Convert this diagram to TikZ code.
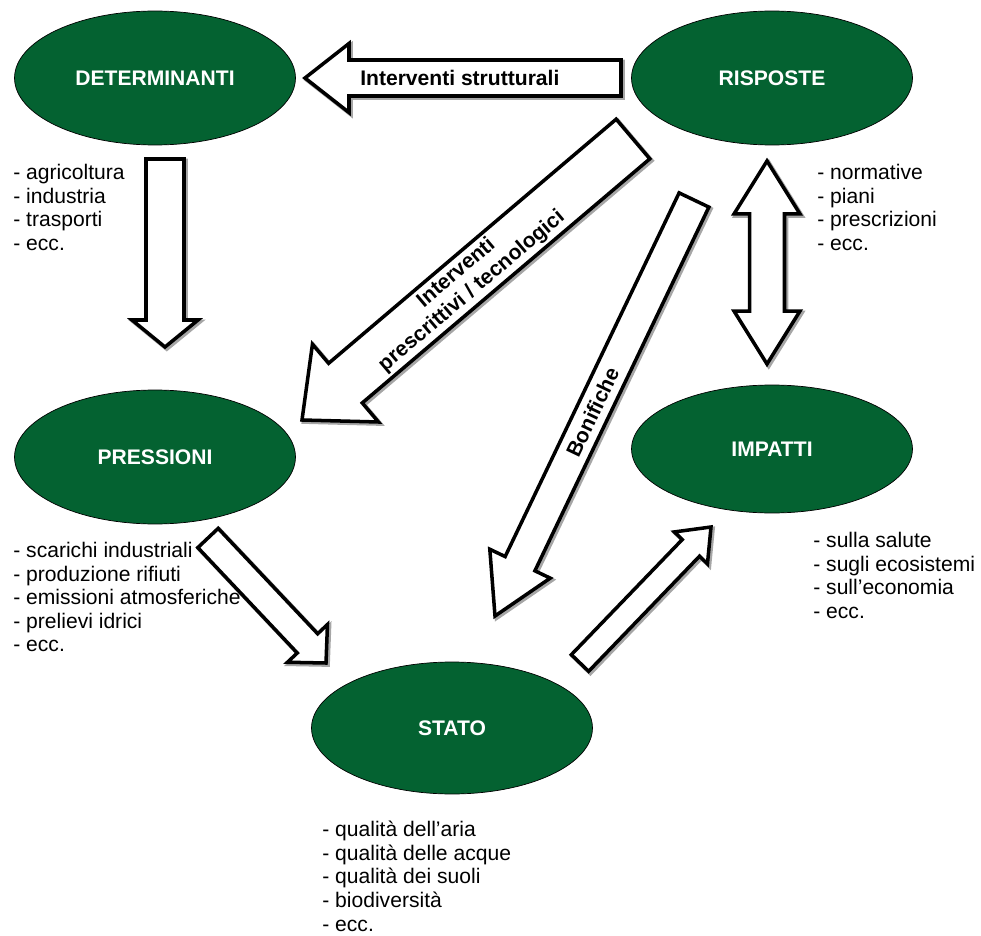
\documentclass[tikz,border=0pt]{standalone}
\usepackage{fontspec}
\setmainfont{Liberation Sans}
\usetikzlibrary{calc,shapes.geometric}
\usepackage{xcolor}
\definecolor{dpsirgreen}{RGB}{4,98,49}

% block arrow: tail, tip, shaft half width, head half width, head length
\newcommand{\blockarrow}[5]{%
  \coordinate (#1-h) at ($(#2)!#5!(#1)$);
  \foreach \look in {arrowshadow,arrowbody}
    \draw[\look] ($(#1)!#3!90:(#2)$) -- ($(#1-h)!#3!90:(#2)$) -- ($(#1-h)!#4!90:(#2)$) -- (#2)
      -- ($(#1-h)!#4!-90:(#2)$) -- ($(#1-h)!#3!-90:(#2)$) -- ($(#1)!#3!-90:(#2)$) -- cycle;
}
% block arrow with a head at both ends
\newcommand{\twinarrow}[5]{%
  \coordinate (#1-h) at ($(#1)!#5!(#2)$);
  \coordinate (#2-h) at ($(#2)!#5!(#1)$);
  \foreach \look in {arrowshadow,arrowbody}
    \draw[\look] (#1) -- ($(#1-h)!#4!90:(#2)$) -- ($(#1-h)!#3!90:(#2)$) -- ($(#2-h)!#3!-90:(#1)$)
      -- ($(#2-h)!#4!-90:(#1)$) -- (#2) -- ($(#2-h)!#4!90:(#1)$) -- ($(#2-h)!#3!90:(#1)$)
      -- ($(#1-h)!#3!-90:(#2)$) -- ($(#1-h)!#4!-90:(#2)$) -- cycle;
}

\begin{document}
\begin{tikzpicture}[x=0.02cm,y=-0.02cm,
	stage/.style={ellipse, draw=black, thin, fill=dpsirgreen, text=white,
		font=\bfseries\fontsize{12}{14}\selectfont,
		minimum width=5.62cm, minimum height=2.68cm, inner sep=0pt},
	items/.style={anchor=north west, align=left, inner sep=0pt,
		font=\fontsize{12}{13.4}\selectfont},
	arrowbody/.style={draw=black, fill=white, line width=2pt, line join=miter},
	arrowshadow/.style={draw=black!35, line width=2.4pt, line join=miter,
		transform canvas={shift={(1pt,-1pt)}}},
	arrowtext/.style={font=\bfseries\fontsize{12}{13.5}\selectfont, align=center,
		sloped, inner sep=0pt}]
	\useasboundingbox (0,0) rectangle (981,936);

	% the five stages
	\node[stage] (det) at (155,78) {DETERMINANTI};
	\node[stage] (ris) at (772,78) {RISPOSTE};
	\node[stage] (pre) at (155,457) {PRESSIONI};
	\node[stage, minimum height=2.56cm] (imp) at (772,449) {IMPATTI};
	\node[stage, minimum height=2.64cm] (sta) at (452,728) {STATO};

	% examples under each stage
	\node[items] (det-list) at (13,164) {- agricoltura\\- industria\\- trasporti\\- ecc.};
	\node[items] (ris-list) at (817,164) {- normative\\- piani\\- prescrizioni\\- ecc.};
	\node[items] (pre-list) at (13,542) {- scarichi industriali\\- produzione rifiuti\\- emissioni atmosferiche\\- prelievi idrici\\- ecc.};
	\node[items] (imp-list) at (813,532) {- sulla salute\\- sugli ecosistemi\\- sull’economia\\- ecc.};
	\node[items] (sta-list) at (322,821) {- qualità dell’aria\\- qualità delle acque\\- qualità dei suoli\\- biodiversità\\- ecc.};

	% arrow ends
	\coordinate (rd-s) at (621,78);  \coordinate (rd-e) at (305,78);
	\coordinate (dp-s) at (165,159); \coordinate (dp-e) at (165,347);
	\coordinate (rp-s) at (633,139); \coordinate (rp-e) at (302,420);
	\coordinate (rs-s) at (694,200); \coordinate (rs-e) at (495,616);
	\coordinate (ri-a) at (767,161); \coordinate (ri-b) at (767,364);
	\coordinate (ps-s) at (208,538); \coordinate (ps-e) at (326,663);
	\coordinate (si-s) at (580,663); \coordinate (si-e) at (711,527);

	\blockarrow{rd-s}{rd-e}{0.36cm}{0.69cm}{0.88cm}
	\blockarrow{dp-s}{dp-e}{0.38cm}{0.66cm}{0.54cm}
	\blockarrow{rp-s}{rp-e}{0.52cm}{1.02cm}{1.14cm}
	\blockarrow{rs-s}{rs-e}{0.33cm}{0.67cm}{1.16cm}
	\twinarrow{ri-a}{ri-b}{0.35cm}{0.66cm}{1.06cm}
	\blockarrow{ps-s}{ps-e}{0.28cm}{0.55cm}{0.54cm}
	\blockarrow{si-s}{si-e}{0.24cm}{0.46cm}{0.58cm}

	% labels on the arrows
	\path (rd-e) -- (rd-s) node[arrowtext, pos=0.49] {Interventi strutturali};
	\path (rp-e) -- (rp-s) node[arrowtext, pos=0.49] {Interventi\\prescrittivi / tecnologici};
	\path (rs-e) -- (rs-s) node[arrowtext, pos=0.49] {Bonifiche};
\end{tikzpicture}
\end{document}
